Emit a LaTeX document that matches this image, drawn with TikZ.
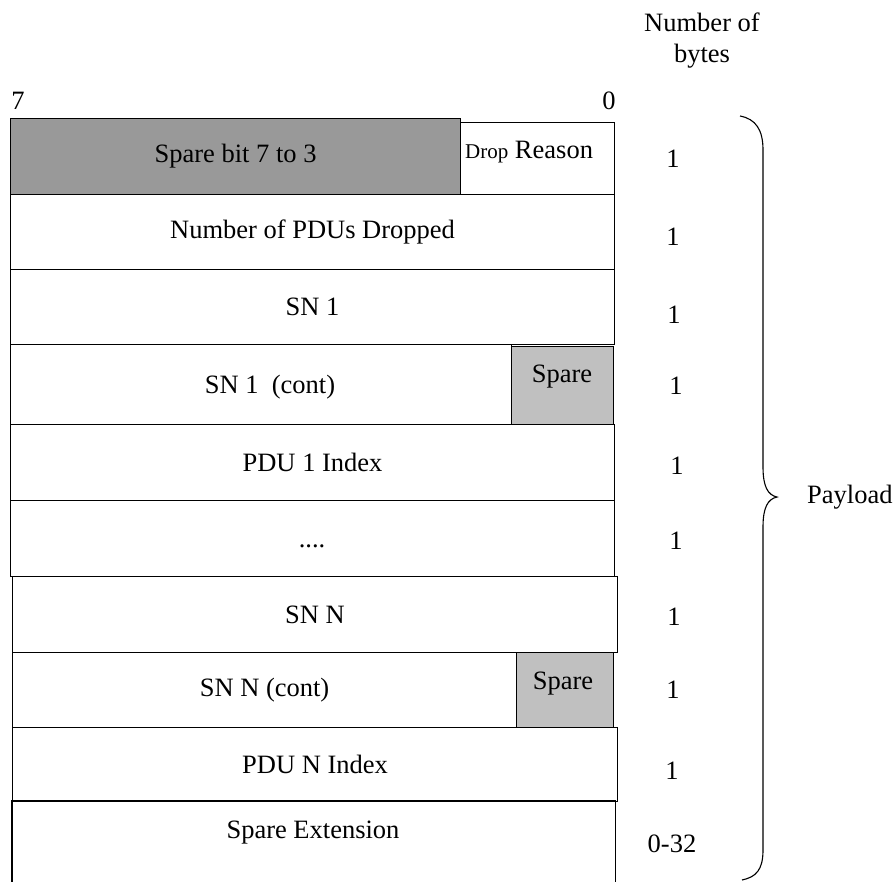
\documentclass[tikz,border=0pt]{standalone}
\usepackage{fontspec}
\setmainfont{Liberation Serif}
\definecolor{darkspare}{HTML}{999999}
\definecolor{lightspare}{HTML}{C0C0C0}
\begin{document}
\begin{tikzpicture}[x=1pt,y=-1pt,
  field/.style={draw, line width=1.1pt, minimum height=76pt, inner sep=0pt, anchor=north west, font=\fontsize{26.5}{30}\selectfont},
  txt/.style={inner sep=0pt, font=\fontsize{26.5}{30}\selectfont},
  num/.style={inner sep=0pt, font=\fontsize{26.5}{30}\selectfont}]
\useasboundingbox (0,0) rectangle (893,881);
% row 1
\node[field, fill=darkspare, minimum width=450pt] (r1) at (10,118) {Spare bit 7 to 3};
\node[field, minimum width=154pt, minimum height=72pt] (drop) at (460,122) {};
\node[txt, anchor=base west] (droptxt) at (465,158) {{\fontsize{21}{24}\selectfont Drop} Reason};
% rows
\node[field, minimum width=604pt, minimum height=75pt] (r2) at (10,194) {Number of PDUs Dropped};
\node[field, minimum width=604pt, minimum height=75pt] (r3) at (10,269) {SN 1};
\node[field, minimum width=501pt, minimum height=80pt] (r4) at (10,344) {};
\node[txt, anchor=base] (r4txt) at (270,393) {SN 1\ \ (cont)};
\node[field, fill=lightspare, minimum width=102pt, minimum height=78pt] (sp1) at (511,346) {};
\node[txt, anchor=base] (sp1txt) at (562,382) {Spare};
\node[field, minimum width=604pt, minimum height=76pt] (r5) at (10,424) {PDU 1 Index};
\node[field, minimum width=604pt, minimum height=76pt] (r6) at (10,500) {};
\node[txt, anchor=base] (dots) at (312,547) {....};
\node[field, minimum width=605pt, minimum height=76pt] (r7) at (12,576) {SN N};
\node[field, minimum width=504pt, minimum height=75pt] (r8) at (12,652) {SN N (cont)};
\node[field, fill=lightspare, minimum width=97pt, minimum height=75pt] (sp2) at (516,652) {};
\node[txt, anchor=base] (sp2txt) at (563,689) {Spare};
\node[field, minimum width=605pt, minimum height=74pt] (r9) at (12,727) {PDU N Index};
\node[field, draw=none, minimum width=602pt, minimum height=100pt] (r10) at (12,801) {};
\draw[line width=1.1pt] (r10.south west) -- (r10.north west) -- (r10.north east) -- (r10.south east);
\node[txt, anchor=base] (setxt) at (313,838) {Spare Extension};
% header
\node[txt, anchor=base] (b7) at (18,109) {7};
\node[txt, anchor=base] (b0) at (609,109) {0};
\node[txt, anchor=base] (nbytes) at (702,31) {Number of};
\node[txt, anchor=base] (nbytes2) at (702,62) {bytes};
% byte counts
\node[num] (n1) at (673,159) {1};
\node[num] (n2) at (673,237) {1};
\node[num] (n3) at (674,315) {1};
\node[num] (n4) at (676,386) {1};
\node[num] (n5) at (677,466) {1};
\node[num] (n6) at (676,541) {1};
\node[num] (n7) at (674,617) {1};
\node[num] (n8) at (673,690) {1};
\node[num] (n9) at (672,771) {1};
\node[num] (n10) at (672,844) {0-32};
% brace
\coordinate (bt) at (740,116);
\coordinate (tip) at (777,497);
\coordinate (bb) at (742,880);
\draw[line width=1.1pt] (bt) .. controls (756,119) and (763,130) .. (763,150)
  -- (763,467) .. controls (763,487) and (768,495) .. (tip)
  .. controls (768,499) and (763,507) .. (763,527)
  -- (763,850) .. controls (763,870) and (756,877) .. (bb);
\node[txt, anchor=west] (payload) at (807,497) {Payload};
\end{tikzpicture}
\end{document}
